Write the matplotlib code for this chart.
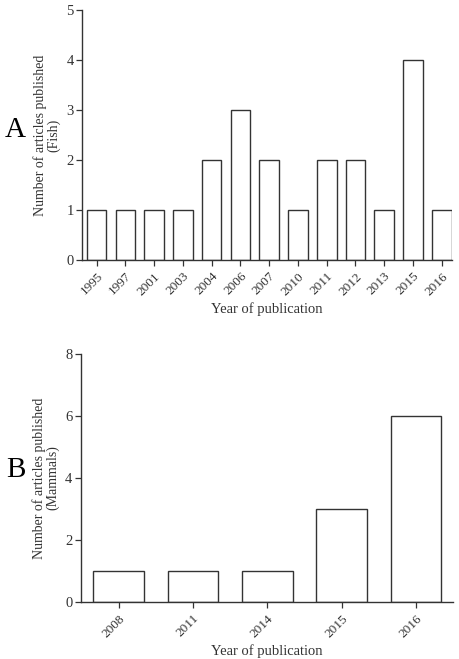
import numpy as np
import matplotlib.pyplot as plt

# data
fish_years = ['1995', '1997', '2001', '2003', '2004', '2006', '2007',
              '2010', '2011', '2012', '2013', '2015', '2016']
fish_counts = [1, 1, 1, 1, 2, 3, 2, 1, 2, 2, 1, 4, 1]

mammal_years = ['2008', '2011', '2014', '2015', '2016']
mammal_counts = [1, 1, 1, 3, 6]

plt.rcParams['font.family'] = ['Liberation Serif', 'DejaVu Serif']
ink = '#333333'

fig = plt.figure(figsize=(4.59, 6.59), dpi=100)


def panel(ax, years, counts, ymax, ystep, ylabel, letter, letter_y):
    x = np.arange(len(years))
    ax.bar(x, counts, width=0.68, color='white', edgecolor=ink, linewidth=1.0)
    ax.set_xlim(-0.51, len(years) - 0.64)
    ax.set_ylim(0, ymax)
    ax.set_yticks(np.arange(0, ymax + 1, ystep))
    ax.set_xticks(x)
    ax.set_xticklabels(years, rotation=45, ha='right', rotation_mode='anchor',
                       fontsize=9.5, color=ink)
    ax.tick_params(axis='y', labelsize=10.5, colors=ink, length=4, width=0.9, pad=2)
    ax.tick_params(axis='x', length=4, width=0.9, colors=ink)
    for side in ['top', 'right']:
        ax.spines[side].set_visible(False)
    for side in ['left', 'bottom']:
        ax.spines[side].set_color(ink)
        ax.spines[side].set_linewidth(1.0)
    ax.set_ylabel(ylabel, fontsize=10, color=ink, linespacing=1.0, labelpad=4)
    ax.set_xlabel('Year of publication', fontsize=10.5, color=ink, labelpad=3)
    fig.text(0.034, letter_y, letter, fontsize=21, ha='center', va='center', color='black')


ax1 = fig.add_axes([0.1786, 0.6055, 0.8064, 0.3795])
panel(ax1, fish_years, fish_counts, 5, 1,
      'Number of articles published\n(Fish)', 'A', 1 - 130 / 659)

ax2 = fig.add_axes([0.176, 0.0865, 0.811, 0.3765])
panel(ax2, mammal_years, mammal_counts, 8, 2,
      'Number of articles published\n(Mammals)', 'B', 1 - 470 / 659)
ax2.set_xlim(-0.51, 4.5)

fig.savefig('out.png', dpi=100)
